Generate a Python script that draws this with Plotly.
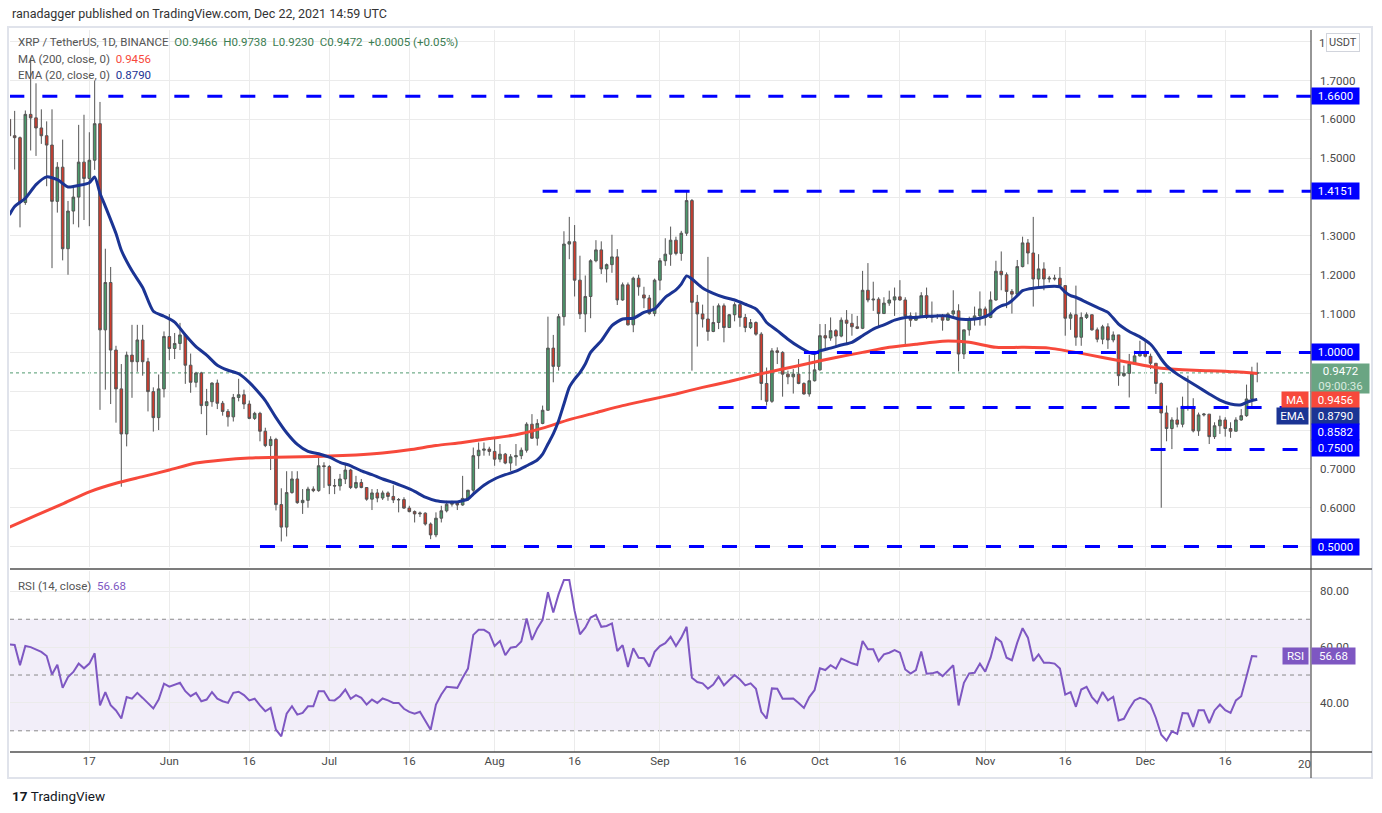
import pandas as pd
import plotly.graph_objects as go
from plotly.subplots import make_subplots

FONT = "Roboto"

# ---------------- DATA ----------------
# daily candles (open, high, low, close), May 2 - Dec 22 2021
may = [
    (1.600, 1.654, 1.555, 1.558), (1.558, 1.622, 1.471, 1.553), (1.553, 1.556, 1.322, 1.386),
    (1.386, 1.623, 1.380, 1.613), (1.613, 1.758, 1.520, 1.604), (1.604, 1.693, 1.506, 1.578),
    (1.578, 1.626, 1.537, 1.558), (1.558, 1.595, 1.428, 1.534), (1.534, 1.626, 1.217, 1.389),
    (1.389, 1.490, 1.360, 1.477), (1.477, 1.548, 1.237, 1.267), (1.267, 1.390, 1.200, 1.364),
    (1.364, 1.425, 1.330, 1.400), (1.400, 1.586, 1.322, 1.490), (1.490, 1.612, 1.341, 1.448),
    (1.448, 1.567, 1.325, 1.495), (1.495, 1.700, 1.470, 1.589), (1.589, 1.645, 0.852, 1.058),
    (1.058, 1.267, 0.904, 1.180), (1.180, 1.220, 0.867, 1.006), (1.006, 1.017, 0.819, 0.906),
    (0.906, 0.970, 0.654, 0.790), (0.790, 1.002, 0.758, 0.993), (0.993, 1.071, 0.883, 0.976),
    (0.976, 1.071, 0.950, 1.032), (1.032, 1.071, 0.940, 0.976), (0.976, 0.986, 0.848, 0.899),
    (0.899, 0.910, 0.796, 0.832), (0.832, 0.943, 0.800, 0.906), (0.906, 1.054, 0.884, 1.041),
]
jun = [
    (1.041, 1.099, 0.980, 1.010), (1.010, 1.050, 0.983, 1.023), (1.023, 1.076, 1.006, 1.045),
    (1.045, 1.050, 0.919, 0.967), (0.967, 0.997, 0.896, 0.923), (0.923, 0.950, 0.910, 0.947),
    (0.947, 0.950, 0.841, 0.863), (0.863, 0.906, 0.787, 0.873), (0.873, 0.923, 0.860, 0.921),
    (0.921, 0.930, 0.854, 0.869), (0.869, 0.875, 0.837, 0.848), (0.848, 0.854, 0.809, 0.834),
    (0.834, 0.893, 0.822, 0.884), (0.884, 0.932, 0.874, 0.891), (0.891, 0.904, 0.854, 0.867),
    (0.867, 0.876, 0.828, 0.830), (0.830, 0.847, 0.826, 0.843), (0.843, 0.847, 0.771, 0.797),
    (0.797, 0.806, 0.756, 0.760), (0.760, 0.784, 0.697, 0.776), (0.776, 0.780, 0.593, 0.608),
    (0.608, 0.650, 0.513, 0.550), (0.550, 0.694, 0.526, 0.639), (0.639, 0.694, 0.636, 0.674),
    (0.674, 0.694, 0.610, 0.613), (0.613, 0.648, 0.584, 0.619), (0.619, 0.654, 0.600, 0.648),
    (0.648, 0.655, 0.640, 0.644), (0.644, 0.732, 0.641, 0.708), (0.708, 0.717, 0.651, 0.706),
]
jul = [
    (0.706, 0.710, 0.635, 0.657), (0.657, 0.674, 0.635, 0.656), (0.656, 0.687, 0.644, 0.674),
    (0.674, 0.711, 0.661, 0.697), (0.697, 0.700, 0.648, 0.652), (0.652, 0.682, 0.648, 0.665),
    (0.665, 0.674, 0.650, 0.652), (0.652, 0.652, 0.618, 0.622), (0.622, 0.648, 0.594, 0.638),
    (0.638, 0.648, 0.614, 0.625), (0.625, 0.644, 0.620, 0.638), (0.638, 0.642, 0.618, 0.629),
    (0.629, 0.658, 0.612, 0.620), (0.620, 0.625, 0.588, 0.621), (0.621, 0.627, 0.597, 0.599),
    (0.599, 0.605, 0.588, 0.590), (0.590, 0.593, 0.562, 0.584), (0.584, 0.590, 0.576, 0.586),
    (0.586, 0.588, 0.554, 0.558), (0.558, 0.562, 0.519, 0.530), (0.530, 0.588, 0.524, 0.573),
    (0.573, 0.605, 0.562, 0.592), (0.592, 0.618, 0.588, 0.609), (0.609, 0.618, 0.603, 0.612),
    (0.612, 0.614, 0.594, 0.607), (0.607, 0.682, 0.605, 0.624), (0.624, 0.646, 0.618, 0.645),
    (0.645, 0.755, 0.635, 0.734), (0.734, 0.768, 0.700, 0.748), (0.748, 0.768, 0.734, 0.751),
    (0.751, 0.757, 0.734, 0.745),
]
aug = [
    (0.745, 0.781, 0.708, 0.725), (0.725, 0.764, 0.717, 0.738), (0.738, 0.741, 0.712, 0.715),
    (0.715, 0.738, 0.695, 0.731), (0.731, 0.764, 0.708, 0.734), (0.734, 0.755, 0.725, 0.748),
    (0.748, 0.820, 0.742, 0.815), (0.815, 0.841, 0.777, 0.779), (0.779, 0.828, 0.760, 0.817),
    (0.817, 0.863, 0.815, 0.851), (0.851, 1.092, 0.850, 1.011), (1.011, 1.045, 0.923, 0.964),
    (0.964, 1.099, 0.953, 1.092), (1.092, 1.312, 1.069, 1.279), (1.279, 1.349, 1.240, 1.285),
    (1.285, 1.328, 1.144, 1.186), (1.186, 1.249, 1.086, 1.099), (1.099, 1.198, 1.052, 1.144),
    (1.144, 1.240, 1.088, 1.236), (1.236, 1.289, 1.232, 1.264), (1.264, 1.286, 1.202, 1.215),
    (1.215, 1.229, 1.180, 1.226), (1.226, 1.303, 1.205, 1.246), (1.246, 1.266, 1.122, 1.135),
    (1.135, 1.180, 1.133, 1.174), (1.174, 1.180, 1.069, 1.071), (1.071, 1.195, 1.052, 1.191),
    (1.191, 1.200, 1.146, 1.169), (1.148, 1.169, 1.114, 1.140), (1.140, 1.148, 1.097, 1.100),
    (1.100, 1.190, 1.093, 1.186),
]
sep = [
    (1.186, 1.243, 1.160, 1.236), (1.236, 1.294, 1.223, 1.253), (1.253, 1.324, 1.223, 1.289),
    (1.289, 1.298, 1.250, 1.255), (1.255, 1.313, 1.236, 1.307), (1.307, 1.416, 1.300, 1.391),
    (1.391, 1.395, 0.953, 1.129), (1.129, 1.148, 1.015, 1.099), (1.099, 1.123, 1.064, 1.086),
    (1.086, 1.246, 1.030, 1.054), (1.054, 1.120, 1.052, 1.077), (1.077, 1.126, 1.060, 1.120),
    (1.120, 1.126, 1.026, 1.064), (1.064, 1.099, 1.063, 1.097), (1.097, 1.129, 1.080, 1.123),
    (1.123, 1.133, 1.066, 1.090), (1.090, 1.099, 1.052, 1.064), (1.064, 1.086, 1.060, 1.077),
    (1.077, 1.080, 1.043, 1.047), (1.047, 1.052, 0.877, 0.920), (0.920, 0.961, 0.863, 0.874),
    (0.874, 1.011, 0.870, 1.004), (1.004, 1.013, 0.970, 1.000), (1.000, 1.003, 0.886, 0.944),
    (0.944, 0.953, 0.918, 0.937), (0.937, 0.957, 0.894, 0.944), (0.944, 0.983, 0.918, 0.920),
    (0.920, 0.923, 0.891, 0.893), (0.893, 0.994, 0.886, 0.927), (0.927, 0.994, 0.925, 0.955),
]
oct_ = [
    (0.955, 1.073, 0.953, 1.043), (1.043, 1.073, 1.009, 1.037), (1.037, 1.090, 1.030, 1.056),
    (1.056, 1.060, 1.013, 1.042), (1.042, 1.090, 1.039, 1.083), (1.083, 1.109, 1.020, 1.075),
    (1.075, 1.099, 1.043, 1.066), (1.066, 1.094, 1.060, 1.062), (1.062, 1.210, 1.060, 1.160),
    (1.160, 1.230, 1.129, 1.135), (1.135, 1.182, 1.107, 1.137), (1.137, 1.142, 1.064, 1.100),
    (1.100, 1.142, 1.099, 1.127), (1.127, 1.159, 1.120, 1.135), (1.135, 1.167, 1.094, 1.143),
    (1.143, 1.186, 1.133, 1.135), (1.135, 1.142, 1.021, 1.094), (1.094, 1.103, 1.066, 1.083),
    (1.083, 1.103, 1.082, 1.093), (1.093, 1.155, 1.090, 1.146), (1.146, 1.167, 1.086, 1.090),
    (1.090, 1.131, 1.077, 1.094), (1.094, 1.099, 1.086, 1.095), (1.095, 1.099, 1.056, 1.083),
    (1.083, 1.103, 1.082, 1.099), (1.099, 1.160, 1.094, 1.107), (1.107, 1.124, 0.951, 0.996),
    (0.996, 1.058, 0.983, 1.058), (1.058, 1.092, 1.043, 1.086), (1.086, 1.118, 1.069, 1.094),
    (1.094, 1.157, 1.069, 1.112),
]
nov = [
    (1.112, 1.118, 1.069, 1.090), (1.090, 1.157, 1.088, 1.135), (1.135, 1.236, 1.133, 1.209),
    (1.209, 1.260, 1.160, 1.200), (1.200, 1.206, 1.114, 1.157), (1.157, 1.163, 1.100, 1.150),
    (1.150, 1.238, 1.149, 1.221), (1.221, 1.298, 1.219, 1.282), (1.282, 1.292, 1.227, 1.256),
    (1.256, 1.349, 1.118, 1.189), (1.189, 1.253, 1.166, 1.215), (1.215, 1.232, 1.160, 1.189),
    (1.189, 1.197, 1.180, 1.191), (1.189, 1.200, 1.185, 1.191), (1.191, 1.220, 1.169, 1.172),
    (1.172, 1.172, 1.043, 1.088), (1.088, 1.103, 1.058, 1.097), (1.097, 1.172, 1.017, 1.039),
    (1.039, 1.103, 1.017, 1.090), (1.090, 1.103, 1.086, 1.097), (1.097, 1.097, 1.056, 1.058),
    (1.058, 1.064, 1.026, 1.034), (1.034, 1.071, 1.021, 1.066), (1.066, 1.075, 1.009, 1.032),
    (1.032, 1.054, 1.026, 1.045), (1.045, 1.045, 0.914, 0.940), (0.940, 0.966, 0.937, 0.946),
    (0.946, 0.996, 0.884, 0.970), (0.970, 1.004, 0.968, 0.991), (0.991, 1.030, 0.989, 1.000),
]
dec = [
    (1.000, 1.030, 0.987, 0.990), (0.990, 0.997, 0.957, 0.972), (0.972, 0.972, 0.893, 0.920),
    (0.920, 0.923, 0.600, 0.844), (0.844, 0.863, 0.771, 0.804), (0.804, 0.833, 0.751, 0.826),
    (0.826, 0.858, 0.807, 0.815), (0.815, 0.886, 0.807, 0.861), (0.861, 0.940, 0.850, 0.858),
    (0.858, 0.882, 0.794, 0.798), (0.798, 0.845, 0.785, 0.839), (0.839, 0.844, 0.835, 0.841),
    (0.841, 0.841, 0.764, 0.783), (0.783, 0.820, 0.777, 0.811), (0.811, 0.837, 0.790, 0.826),
    (0.826, 0.833, 0.783, 0.804), (0.804, 0.820, 0.780, 0.797), (0.797, 0.833, 0.797, 0.826),
    (0.826, 0.854, 0.824, 0.837), (0.837, 0.917, 0.834, 0.880), (0.880, 0.963, 0.857, 0.9466),
    (0.9466, 0.9738, 0.9230, 0.9472),
]

rsi_may = [61.0, 60.8, 53.5, 60.4, 60.0, 59.2, 58.3, 56.8, 50.2, 53.7, 45.4, 49.3, 51.1, 54.1, 52.4,
           54.1, 57.8, 39.1, 43.9, 39.2, 37.3, 34.4, 42.1, 41.5, 43.6, 41.8, 40.0, 38.0, 41.2, 46.9]
rsi_jun = [45.8, 46.4, 47.2, 44.2, 42.4, 43.6, 40.6, 41.2, 43.9, 41.5, 40.6, 40.0, 43.6, 44.0, 42.8,
           40.9, 41.5, 39.1, 37.0, 38.2, 30.4, 28.0, 36.1, 38.8, 35.8, 36.4, 38.8, 38.8, 44.2, 44.2]
rsi_jul = [41.0, 40.9, 42.4, 44.8, 41.5, 42.8, 41.8, 39.4, 41.2, 40.0, 41.6, 40.9, 40.0, 40.0, 37.9,
           36.8, 36.1, 36.8, 33.8, 30.4, 39.4, 43.0, 45.8, 45.7, 45.4, 49.0, 52.3, 64.4, 66.2, 66.2, 65.0]
rsi_aug = [60.4, 62.2, 57.1, 59.8, 60.1, 62.0, 70.3, 62.6, 66.7, 69.8, 79.7, 72.4, 79.0, 84.1, 84.1,
           73.0, 64.6, 67.0, 70.6, 71.6, 67.3, 67.6, 68.5, 58.6, 60.7, 52.9, 59.6, 56.2, 56.0, 53.0, 58.3]
rsi_sep = [60.4, 61.4, 63.7, 60.4, 63.4, 67.3, 49.0, 47.5, 47.0, 45.1, 46.6, 49.4, 46.3, 48.2, 50.0,
           48.4, 46.3, 47.0, 45.1, 36.8, 34.4, 45.2, 45.1, 41.5, 41.5, 41.6, 40.0, 38.2, 42.1, 44.6]
rsi_oct = [52.4, 51.8, 53.5, 52.3, 55.9, 55.0, 54.2, 53.6, 62.2, 59.2, 59.2, 55.0, 57.4, 58.0, 58.9,
           58.0, 52.0, 50.5, 51.8, 58.4, 50.5, 50.6, 51.1, 49.6, 51.4, 53.5, 39.1, 47.2, 50.6, 50.8, 54.1]
rsi_nov = [51.2, 56.2, 63.4, 61.9, 56.2, 55.3, 61.6, 66.8, 63.4, 55.0, 57.4, 54.4, 54.4, 54.1, 52.3,
           43.0, 43.9, 38.6, 44.8, 45.8, 42.1, 40.0, 43.9, 40.9, 42.2, 33.7, 34.3, 37.9, 40.9, 41.8]
rsi_dec = [41.2, 39.4, 34.6, 28.6, 26.5, 29.8, 28.9, 36.4, 36.2, 31.4, 37.4, 37.4, 32.8, 37.3, 39.4,
           37.4, 36.4, 40.9, 42.4, 49.6, 56.8, 56.68]

# EMA(20) line
ema_dates = ["2021-05-02", "2021-05-03", "2021-05-05", "2021-05-07", "2021-05-09", "2021-05-11",
             "2021-05-13", "2021-05-15", "2021-05-17", "2021-05-18", "2021-05-19", "2021-05-20",
             "2021-05-22", "2021-05-23", "2021-05-25", "2021-05-27", "2021-05-29", "2021-05-31",
             "2021-06-02", "2021-06-04", "2021-06-06", "2021-06-08", "2021-06-10", "2021-06-12",
             "2021-06-14", "2021-06-16", "2021-06-18", "2021-06-19", "2021-06-21", "2021-06-23",
             "2021-06-25", "2021-06-27", "2021-06-29", "2021-07-01", "2021-07-03", "2021-07-05",
             "2021-07-07", "2021-07-09", "2021-07-11", "2021-07-13", "2021-07-15", "2021-07-17",
             "2021-07-19", "2021-07-21", "2021-07-23", "2021-07-25", "2021-07-26", "2021-07-27",
             "2021-07-28", "2021-07-30", "2021-08-01", "2021-08-03", "2021-08-05", "2021-08-07",
             "2021-08-09", "2021-08-10", "2021-08-11", "2021-08-12", "2021-08-13", "2021-08-14",
             "2021-08-15", "2021-08-16", "2021-08-17", "2021-08-18", "2021-08-19", "2021-08-21",
             "2021-08-23", "2021-08-25", "2021-08-27", "2021-08-29", "2021-08-31", "2021-09-02",
             "2021-09-04", "2021-09-05", "2021-09-06", "2021-09-07", "2021-09-09", "2021-09-11",
             "2021-09-13", "2021-09-15", "2021-09-17", "2021-09-19", "2021-09-20", "2021-09-21",
             "2021-09-23", "2021-09-25", "2021-09-27", "2021-09-29", "2021-09-30", "2021-10-01",
             "2021-10-03", "2021-10-05", "2021-10-07", "2021-10-09", "2021-10-11", "2021-10-13",
             "2021-10-15", "2021-10-17", "2021-10-19", "2021-10-21", "2021-10-23", "2021-10-25",
             "2021-10-27", "2021-10-29", "2021-10-31", "2021-11-02", "2021-11-03", "2021-11-04",
             "2021-11-05", "2021-11-06", "2021-11-07", "2021-11-08", "2021-11-09", "2021-11-11",
             "2021-11-13", "2021-11-15", "2021-11-16", "2021-11-17", "2021-11-18", "2021-11-20",
             "2021-11-22", "2021-11-24", "2021-11-26", "2021-11-28", "2021-11-30", "2021-12-02",
             "2021-12-03", "2021-12-04", "2021-12-05", "2021-12-07", "2021-12-09", "2021-12-11",
             "2021-12-13", "2021-12-15", "2021-12-17", "2021-12-19", "2021-12-20", "2021-12-21",
             "2021-12-22"]
ema_vals = [1.354, 1.376, 1.397, 1.432, 1.452, 1.445, 1.426, 1.430, 1.437, 1.452, 1.410, 1.376,
            1.306, 1.263, 1.210, 1.167, 1.106, 1.093, 1.078, 1.045, 1.015, 0.993, 0.967, 0.954,
            0.945, 0.923, 0.893, 0.876, 0.832, 0.793, 0.763, 0.745, 0.739, 0.730, 0.717, 0.708,
            0.695, 0.685, 0.674, 0.665, 0.654, 0.642, 0.627, 0.618, 0.615, 0.615, 0.618, 0.622,
            0.635, 0.658, 0.674, 0.685, 0.694, 0.708, 0.723, 0.738, 0.764, 0.790, 0.824, 0.867,
            0.910, 0.931, 0.948, 0.970, 1.000, 1.030, 1.069, 1.086, 1.088, 1.103, 1.112, 1.142,
            1.161, 1.176, 1.197, 1.189, 1.166, 1.152, 1.142, 1.135, 1.124, 1.112, 1.097, 1.077,
            1.056, 1.034, 1.015, 1.000, 0.997, 1.004, 1.011, 1.019, 1.026, 1.043, 1.060, 1.071,
            1.083, 1.090, 1.090, 1.093, 1.094, 1.094, 1.086, 1.085, 1.088, 1.099, 1.112, 1.120,
            1.124, 1.133, 1.146, 1.159, 1.163, 1.167, 1.170, 1.169, 1.155, 1.146, 1.142, 1.129,
            1.116, 1.103, 1.073, 1.054, 1.040, 1.021, 1.004, 0.983, 0.966, 0.944, 0.927, 0.910,
            0.893, 0.877, 0.867, 0.865, 0.871, 0.876, 0.879]

# MA(200) line
ma_dates = ["2021-05-02", "2021-05-07", "2021-05-12", "2021-05-17", "2021-05-22", "2021-05-27",
            "2021-06-01", "2021-06-06", "2021-06-11", "2021-06-16", "2021-06-21", "2021-06-26",
            "2021-07-01", "2021-07-06", "2021-07-11", "2021-07-16", "2021-07-21", "2021-07-26",
            "2021-07-31", "2021-08-05", "2021-08-10", "2021-08-15", "2021-08-20", "2021-08-25",
            "2021-08-30", "2021-09-04", "2021-09-09", "2021-09-14", "2021-09-19", "2021-09-24",
            "2021-09-29", "2021-10-04", "2021-10-09", "2021-10-14", "2021-10-19", "2021-10-24",
            "2021-10-29", "2021-11-03", "2021-11-08", "2021-11-13", "2021-11-18", "2021-11-23",
            "2021-11-28", "2021-12-03", "2021-12-08", "2021-12-13", "2021-12-18", "2021-12-22"]
ma_vals = [0.550, 0.580, 0.610, 0.641, 0.663, 0.680, 0.697, 0.715, 0.723, 0.728, 0.730, 0.731,
           0.733, 0.736, 0.741, 0.749, 0.760, 0.768, 0.778, 0.788, 0.805, 0.827, 0.845, 0.863,
           0.878, 0.893, 0.910, 0.925, 0.942, 0.957, 0.972, 0.987, 1.000, 1.013, 1.021, 1.029,
           1.026, 1.013, 1.013, 1.011, 1.000, 0.987, 0.974, 0.961, 0.955, 0.953, 0.950, 0.9456]

# horizontal support / resistance levels and the dates they are drawn from
levels = [1.6600, 1.4151, 1.0000, 0.8582, 0.7500, 0.5000]
level_start = ["2021-05-02", "2021-08-10", "2021-09-28", "2021-09-12", "2021-12-02", "2021-06-18"]

x_tick_dates = ["2021-05-17", "2021-06-01", "2021-06-16", "2021-07-01", "2021-07-16", "2021-08-01",
                "2021-08-16", "2021-09-01", "2021-09-16", "2021-10-01", "2021-10-16", "2021-11-01",
                "2021-11-16", "2021-12-01", "2021-12-16"]
x_tick_text = ["17", "Jun", "16", "Jul", "16", "Aug", "16", "Sep", "16", "Oct", "16", "Nov", "16", "Dec", "16"]

price_ticks = [0.5, 0.6, 0.7, 0.8, 0.9, 1.0, 1.1, 1.2, 1.3, 1.4, 1.5, 1.6, 1.7, 1.8]
price_tick_text = ["", "0.6000", "0.7000", "", "", "", "1.1000", "1.2000", "1.3000", "", "1.5000",
                   "1.6000", "1.7000", ""]
rsi_ticks = [40, 60, 80]
rsi_tick_text = ["40.00", "60.00", "80.00"]

last_price = 0.9472
ma_last = 0.9456
ema_last = 0.8790
rsi_last = 56.68

# ---------------- assemble ----------------
candles = may + jun + jul + aug + sep + oct_ + nov + dec
dates = pd.date_range("2021-05-02", periods=len(candles), freq="D")
opens = [c[0] for c in candles]
highs = [c[1] for c in candles]
lows = [c[2] for c in candles]
closes = [c[3] for c in candles]
rsi = rsi_may + rsi_jun + rsi_jul + rsi_aug + rsi_sep + rsi_oct + rsi_nov + rsi_dec

# ---------------- geometry ----------------
FW, FH = 1382, 813
ML, MR, MT, MB = 10, 71, 30, 61
PW = FW - ML - MR
PH = FH - MT - MB
P_TOP, P_BOT = 1.8303, 0.4473
PRICE_PX = (30, 567)
RSI_TOP, RSI_BOT = 87.3, 22.4
X_RANGE = ["2021-05-02 03:00", "2022-01-01 02:00"]


def pxx(x):
    return (x - ML) / PW


def pxy(y):
    return (FH - MB - y) / PH


def price_to_px(p):
    return PRICE_PX[0] + (P_TOP - p) / (P_TOP - P_BOT) * (PRICE_PX[1] - PRICE_PX[0])


GREEN = "#4a9a6b"
RED = "#d13b2c"
BLUE = "#0000ff"
NAVY = "#1b3494"
MARED = "#f7493b"
PURPLE = "#7e57c2"
GRID = "#ebebeb"
TXT = "#4a4a4a"

fig = make_subplots(rows=2, cols=1, shared_xaxes=True, vertical_spacing=0.005)

fig.add_trace(go.Candlestick(
    x=dates, open=opens, high=highs, low=lows, close=closes,
    increasing=dict(fillcolor=GREEN, line=dict(color="#555555", width=1)),
    decreasing=dict(fillcolor=RED, line=dict(color="#555555", width=1)),
    showlegend=False, hoverinfo="skip"), row=1, col=1)

fig.add_trace(go.Scatter(x=ma_dates, y=ma_vals, mode="lines", line=dict(color=MARED, width=3, shape="spline", smoothing=0.6),
                         showlegend=False, hoverinfo="skip"), row=1, col=1)
fig.add_trace(go.Scatter(x=ema_dates, y=ema_vals, mode="lines", line=dict(color=NAVY, width=3, shape="spline", smoothing=0.6),
                         showlegend=False, hoverinfo="skip"), row=1, col=1)

fig.add_trace(go.Scatter(x=dates, y=rsi, mode="lines", line=dict(color=PURPLE, width=2),
                         showlegend=False, hoverinfo="skip"), row=2, col=1)

shapes = []
# level lines
for lv, st in zip(levels, level_start):
    shapes.append(dict(type="line", xref="x", yref="y", x0=st, x1=X_RANGE[1], y0=lv, y1=lv,
                       line=dict(color=BLUE, width=3, dash="15px,18px"), layer="above"))
# last price dotted
shapes.append(dict(type="line", xref="x domain", yref="y", x0=0, x1=1, y0=last_price, y1=last_price,
                   line=dict(color="#4f9a6e", width=1, dash="dot"), layer="below"))
# RSI band and dashed levels
shapes.append(dict(type="rect", xref="x2 domain", yref="y2", x0=0, x1=1, y0=30, y1=70,
                   fillcolor="rgba(126,87,194,0.10)", line=dict(width=0), layer="below"))
for lv in (70, 50, 30):
    shapes.append(dict(type="line", xref="x2 domain", yref="y2", x0=0, x1=1, y0=lv, y1=lv,
                       line=dict(color="#8a8a8a", width=1, dash="4px,4px"), layer="below"))
# frame & separators
shapes.append(dict(type="rect", xref="paper", yref="paper", x0=pxx(8), x1=pxx(1372), y0=pxy(778), y1=pxy(27),
                   line=dict(color="#e0e3eb", width=2), layer="below"))
shapes.append(dict(type="line", xref="paper", yref="paper", x0=pxx(10), x1=pxx(1372), y0=pxy(569), y1=pxy(569),
                   line=dict(color="#505050", width=1.5)))
shapes.append(dict(type="line", xref="paper", yref="paper", x0=pxx(10), x1=pxx(1372), y0=pxy(752), y1=pxy(752),
                   line=dict(color="#505050", width=1.5)))
shapes.append(dict(type="line", xref="paper", yref="paper", x0=pxx(1311), x1=pxx(1311), y0=pxy(778), y1=pxy(30),
                   line=dict(color="#505050", width=1.2)))

ann = []


def text_at(x, y, text, size=12, color=TXT, anchor="left"):
    ann.append(dict(xref="paper", yref="paper", x=pxx(x), y=pxy(y), xanchor=anchor, yanchor="middle",
                    text=text, showarrow=False, font=dict(family=FONT, size=size, color=color)))


def box(text, yc, bg, x0=1311, w=45, h=14, fc="white", size=11.5, anchor="left"):
    ann.append(dict(xref="paper", yref="paper", x=pxx(x0), y=pxy(yc), xanchor=anchor, yanchor="middle",
                    text=text, showarrow=False, bgcolor=bg, width=w, height=h, borderpad=1,
                    align="center", font=dict(family=FONT, size=size, color=fc)))


text_at(10, 14, "ranadagger published on TradingView.com, Dec 22, 2021 14:59 UTC", size=12.5, color="#333333")
g = "#3b7d52"
text_at(16, 42, "XRP / TetherUS, 1D, BINANCE&nbsp;&nbsp;"
        f"<span style='color:{g}'>O{opens[-1]:.4f}&nbsp;&nbsp;H{highs[-1]:.4f}&nbsp;&nbsp;L{lows[-1]:.4f}&nbsp;&nbsp;"
        f"C{closes[-1]:.4f}&nbsp;&nbsp;+0.0005 (+0.05%)</span>", size=11.5, color="#555555")
text_at(16, 59, f"MA (200, close, 0)&nbsp;&nbsp;<span style='color:{MARED}'>{ma_last:.4f}</span>", size=11.5, color="#555555")
text_at(16, 75, f"EMA (20, close, 0)&nbsp;&nbsp;<span style='color:{NAVY}'>{ema_last:.4f}</span>", size=11.5, color="#555555")
text_at(16, 586, f"RSI (14, close)&nbsp;&nbsp;<span style='color:{PURPLE}'>{rsi_last:.2f}</span>", size=11.5, color="#555555")

# price axis boxes (stacked like TradingView does)
box(f"{levels[0]:.4f}", price_to_px(levels[0]), BLUE)
box(f"{levels[1]:.4f}", price_to_px(levels[1]), BLUE)
box(f"{levels[2]:.4f}", price_to_px(levels[2]), BLUE)
box(f"{last_price:.4f}<br><span style='color:#d8eadf'>09:00:36</span>", 378.5, "#6aa583", w=55, h=27)
box(f"{ma_last:.4f}", 400.3, MARED)
box("MA", 400.3, MARED, x0=1309, w=24, anchor="right")
box(f"{ema_last:.4f}", 416.3, NAVY)
box("EMA", 416.3, NAVY, x0=1309, w=29, anchor="right")
box(f"{levels[3]:.4f}", 432.2, BLUE)
box(f"{levels[4]:.4f}", 448.0, BLUE)
box(f"{levels[5]:.4f}", price_to_px(levels[5]), BLUE)
# RSI boxes
box(f"{rsi_last:.2f}", 656.4, PURPLE, w=41)
box("RSI", 656.4, PURPLE, x0=1309, w=23, anchor="right")
# currency label
ann.append(dict(xref="paper", yref="paper", x=pxx(1326), y=pxy(42.5), xanchor="left", yanchor="middle",
                text="USDT", showarrow=False, bgcolor="white", bordercolor="#d1d4dc", borderwidth=1,
                borderpad=2, font=dict(family=FONT, size=11, color=TXT)))
text_at(1317, 42.5, "1", size=11.5)
# clipped "2022" label
text_at(1296, 764, "20", size=11.5)
# logo
text_at(10, 796, "<b>17</b>&nbsp;TradingView", size=13.5, color="#131722")

fig.update_layout(
    width=FW, height=FH, margin=dict(l=ML, r=MR, t=MT, b=MB),
    paper_bgcolor="white", plot_bgcolor="white",
    font=dict(family=FONT, size=11.5, color=TXT),
    shapes=shapes, annotations=ann, showlegend=False, hovermode=False,
)
fig.update_xaxes(range=X_RANGE, tickvals=x_tick_dates, ticktext=x_tick_text, showgrid=True, gridcolor=GRID,
                 gridwidth=1, zeroline=False, showline=False, ticks="", rangeslider_visible=False)
fig.update_xaxes(showticklabels=False, row=1, col=1)
fig.update_xaxes(showticklabels=True, tickfont=dict(family=FONT, size=11.5, color=TXT), row=2, col=1)
fig.update_layout(
    yaxis=dict(domain=[(FH - MB - PRICE_PX[1]) / PH, 1], side="right", range=[P_BOT, P_TOP],
               tickvals=price_ticks, ticktext=price_tick_text, showgrid=True, gridcolor=GRID, zeroline=False,
               ticks="", ticklabelstandoff=8, tickfont=dict(family=FONT, size=11.5, color=TXT)),
    yaxis2=dict(domain=[0, (FH - MB - 571) / PH], side="right", range=[RSI_BOT, RSI_TOP],
                tickvals=rsi_ticks, ticktext=rsi_tick_text, showgrid=True, gridcolor=GRID, zeroline=False,
                ticks="", ticklabelstandoff=8, tickfont=dict(family=FONT, size=11.5, color=TXT)),
)

fig.write_html("out.html", config={"displayModeBar": False, "staticPlot": True},
               post_script="document.body.style.margin='0';document.body.style.overflow='hidden';")
